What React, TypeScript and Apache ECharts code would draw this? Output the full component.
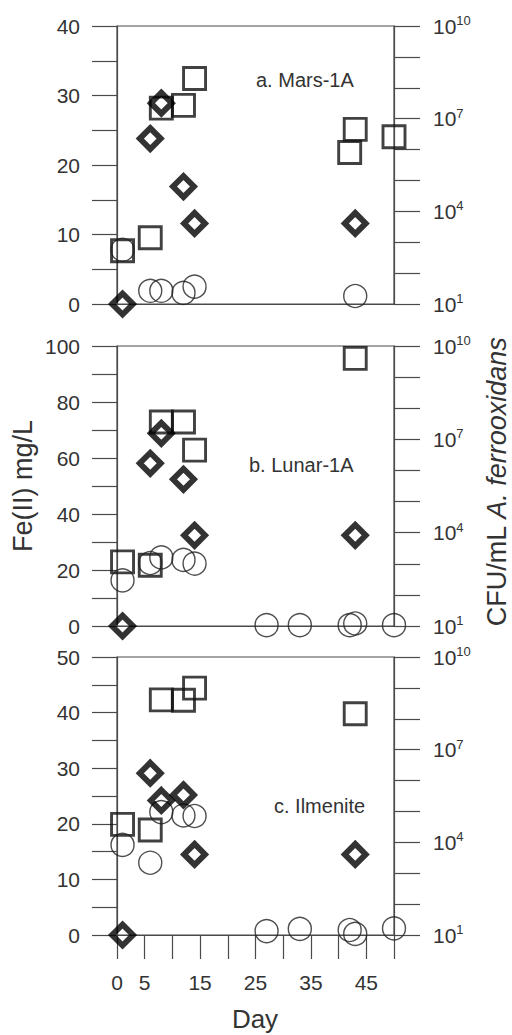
import React, { useEffect, useRef } from 'react';
import * as echarts from 'echarts';

// ---- tick labels ----
const DAY_TICK_LABELS = [0, 5, 15, 25, 35, 45];
const CFU_TICK_EXPONENTS = [1, 4, 7, 10];
const FE_MAX = [40, 100, 50];
const FE_INTERVAL = [5, 10, 5];
const FE_TICK_LABELS_A = [0, 10, 20, 30, 40];
const FE_TICK_LABELS_B = [0, 20, 40, 60, 80, 100];
const FE_TICK_LABELS_C = [0, 10, 20, 30, 40, 50];
const PANEL_NAMES = ['a. Mars-1A', 'b. Lunar-1A', 'c. Ilmenite'];

// ---- data: [day, value] ----
// squares: CFU/mL A. ferrooxidans (right log axis)
const MARS_CFU = [[1, 530], [6, 1400], [8, 2.2e7], [12, 2.7e7], [14, 2.0e8], [42, 8.0e5], [43, 4.5e6], [50, 2.6e6]];
const LUNAR_CFU = [[1, 1150], [6, 900], [8, 3.6e7], [12, 3.6e7], [14, 4.5e6], [43, 4.0e9]];
const ILMENITE_CFU = [[1, 3.8e4], [6, 2.5e4], [8, 4.1e8], [12, 4.0e8], [14, 9.8e8], [43, 1.45e8]];

// diamonds: Fe(II) mg/L, inoculated
const MARS_FE = [[1, 0], [6, 23.8], [8, 28.9], [12, 16.9], [14, 11.6], [43, 11.6]];
const LUNAR_FE = [[1, 0], [6, 58.1], [8, 68.8], [12, 52.4], [14, 32.4], [43, 32.4]];
const ILMENITE_FE = [[1, 0], [6, 29.1], [8, 24.2], [12, 25.2], [14, 14.5], [43, 14.5]];

// circles: Fe(II) mg/L, control
const MARS_CONTROL = [[1, 7.8], [6, 1.9], [8, 1.9], [12, 1.6], [14, 2.5], [43, 1.15]];
const LUNAR_CONTROL = [[1, 16.3], [6, 22.5], [8, 24.5], [12, 23.6], [14, 22.3], [27, 0.3], [33, 0.3], [42, 0.3], [43, 0.9], [50, 0.3]];
const ILMENITE_CONTROL = [[1, 16.2], [6, 13.0], [8, 22.1], [12, 21.5], [14, 21.4], [27, 0.7], [33, 1.1], [42, 0.9], [43, 0.2], [50, 1.2]];

const CFU_SETS = [MARS_CFU, LUNAR_CFU, ILMENITE_CFU];
const FE_SETS = [MARS_FE, LUNAR_FE, ILMENITE_FE];
const CONTROL_SETS = [MARS_CONTROL, LUNAR_CONTROL, ILMENITE_CONTROL];
const FE_TICK_LABELS = [FE_TICK_LABELS_A, FE_TICK_LABELS_B, FE_TICK_LABELS_C];

const FONT = '"Liberation Sans", Arial, Helvetica, sans-serif';
const LINE = '#4a4a4a';
const TEXT = '#333333';

const GRID_TOPS = [26, 346, 657];
const GRID_HEIGHTS = [278, 280, 278];
const PANEL_LABEL_POS = [[256, 80], [249, 465], [274, 806]];

export default function App() {
  const ref = useRef<HTMLDivElement>(null);

  useEffect(() => {
    if (!ref.current) return;
    const chart = echarts.init(ref.current, undefined, { renderer: 'svg' });

    const grids: any[] = [];
    const xAxes: any[] = [];
    const yAxes: any[] = [];
    const series: any[] = [];

    for (let i = 0; i < 3; i++) {
      const isBottom = i === 2;
      grids.push({
        left: 117,
        right: 118,
        top: GRID_TOPS[i],
        height: GRID_HEIGHTS[i],
        show: true,
        borderColor: LINE,
        borderWidth: 1.2,
        backgroundColor: 'rgba(0,0,0,0)',
      });
      xAxes.push({
        type: 'value',
        gridIndex: i,
        min: 0,
        max: 50,
        interval: 5,
        axisLine: { show: true, onZero: false, lineStyle: { color: LINE, width: 1.2 } },
        axisTick: { show: isBottom, length: 24, lineStyle: { color: LINE, width: 1.2 } },
        axisLabel: {
          show: isBottom,
          margin: 37,
          fontSize: 21,
          color: TEXT,
          fontFamily: FONT,
          formatter: (v: number) => (DAY_TICK_LABELS.includes(v) ? String(v) : ''),
        },
        splitLine: { show: false },
      });
      const feLabels = FE_TICK_LABELS[i];
      yAxes.push({
        type: 'value',
        gridIndex: i,
        position: 'left',
        min: 0,
        max: FE_MAX[i],
        interval: FE_INTERVAL[i],
        axisLine: { show: true, lineStyle: { color: LINE, width: 1.2 } },
        axisTick: { show: true, length: 25, lineStyle: { color: LINE, width: 1.2 } },
        axisLabel: {
          margin: 37,
          fontSize: 21,
          color: TEXT,
          fontFamily: FONT,
          formatter: (v: number) => (feLabels.includes(v) ? String(v) : ''),
        },
        splitLine: { show: false },
      });
      yAxes.push({
        type: 'log',
        logBase: 10,
        gridIndex: i,
        position: 'right',
        min: 10,
        max: 1e10,
        interval: 1,
        splitNumber: 9,
        axisLine: { show: true, lineStyle: { color: LINE, width: 1.2 } },
        axisTick: { show: true, length: 26, lineStyle: { color: LINE, width: 1.2 } },
        axisLabel: {
          margin: 39,
          color: TEXT,
          fontFamily: FONT,
          formatter: (v: number) => {
            const e = Math.round(Math.log10(v));
            return CFU_TICK_EXPONENTS.includes(e) ? `{b|10}{s|${e}}` : '';
          },
          rich: {
            b: { fontSize: 21, color: TEXT, fontFamily: FONT, lineHeight: 24 },
            s: { fontSize: 13, color: TEXT, fontFamily: FONT, verticalAlign: 'top', lineHeight: 14 },
          },
        },
        splitLine: { show: false },
      });

      series.push({
        type: 'scatter',
        xAxisIndex: i,
        yAxisIndex: 2 * i + 1,
        data: CFU_SETS[i],
        symbol: 'rect',
        symbolSize: 22,
        clip: false,
        silent: true,
        itemStyle: { color: 'rgba(0,0,0,0)', borderColor: '#111111', borderWidth: 2.9 },
      });
      series.push({
        type: 'scatter',
        xAxisIndex: i,
        yAxisIndex: 2 * i,
        data: CONTROL_SETS[i],
        symbol: 'circle',
        symbolSize: 23,
        clip: false,
        silent: true,
        itemStyle: { color: 'rgba(0,0,0,0)', borderColor: '#222222', borderWidth: 1.4 },
      });
      series.push({
        type: 'scatter',
        xAxisIndex: i,
        yAxisIndex: 2 * i,
        data: FE_SETS[i],
        symbol: 'diamond',
        symbolSize: 21,
        clip: false,
        silent: true,
        itemStyle: { color: 'rgba(0,0,0,0)', borderColor: '#000000', borderWidth: 5.8 },
      });
    }

    const graphics: any[] = PANEL_NAMES.map((name, i) => ({
      type: 'text',
      x: PANEL_LABEL_POS[i][0],
      y: PANEL_LABEL_POS[i][1],
      silent: true,
      style: {
        text: name,
        fontSize: 20,
        fontFamily: FONT,
        fill: TEXT,
        align: 'left',
        verticalAlign: 'middle',
      },
    }));
    graphics.push({
      type: 'text',
      x: 23,
      y: 486,
      rotation: Math.PI / 2,
      silent: true,
      style: {
        text: 'Fe(II) mg/L',
        fontSize: 27,
        fontFamily: FONT,
        fill: TEXT,
        align: 'center',
        verticalAlign: 'middle',
      },
    });
    graphics.push({
      type: 'text',
      x: 497,
      y: 482,
      rotation: Math.PI / 2,
      silent: true,
      style: {
        text: '{n|CFU/mL }{i|A. ferrooxidans}',
        fontSize: 27,
        fontFamily: FONT,
        fill: TEXT,
        align: 'center',
        verticalAlign: 'middle',
        rich: {
          n: { fontSize: 27, fontFamily: FONT, fill: TEXT },
          i: { fontSize: 27, fontFamily: FONT, fill: TEXT, fontStyle: 'italic' },
        },
      },
    });
    graphics.push({
      type: 'text',
      x: 255,
      y: 1019,
      silent: true,
      style: {
        text: 'Day',
        fontSize: 26,
        fontFamily: FONT,
        fill: TEXT,
        align: 'center',
        verticalAlign: 'middle',
      },
    });

    chart.setOption({
      animation: false,
      backgroundColor: '#ffffff',
      grid: grids,
      xAxis: xAxes,
      yAxis: yAxes,
      series,
      graphic: graphics,
    });

    return () => chart.dispose();
  }, []);

  return <div ref={ref} style={{ position: 'absolute', left: 0, top: 0, width: 512, height: 1035 }} />;
}
